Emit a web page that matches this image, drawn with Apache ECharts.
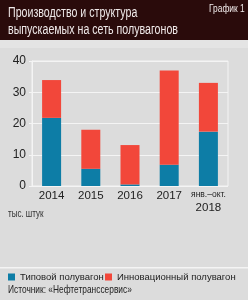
<!DOCTYPE html>
<html>
<head>
<meta charset="utf-8">
<script src="https://cdn.jsdelivr.net/npm/echarts@6/dist/echarts.min.js"></script>
<style>
  html, body { margin: 0; padding: 0; background: #dcdcdc; }
  #chart { width: 248px; height: 300px; }
</style>
</head>
<body>
<div id="chart"></div>
<script>
const categories = ['2014', '2015', '2016', '2017', 'янв.–окт.\n2018'];
const typical = [21.8, 5.5, 0.5, 6.8, 17.4];
const innovative = [12.1, 12.5, 12.6, 30.2, 15.6];
const yTicks = [0, 10, 20, 30, 40];

const FONT = '"Liberation Sans", Arial, sans-serif';
const BLUE = '#0d7da6';
const RED = '#f2473a';
const WHITE = '#f4f4f4';

const chart = echarts.init(document.getElementById('chart'));

const legendText = { fontFamily: FONT, fontSize: 9.5, color: '#222' };

chart.setOption({
    backgroundColor: '#dcdcdc',
    animation: false,
    graphic: [
        { type: 'rect', shape: { x: 0, y: 0, width: 248, height: 40 }, style: { fill: '#2a0b0b' } },
        { type: 'rect', shape: { x: 0, y: 40, width: 248, height: 8 }, style: { fill: '#e4e4e4' } },
        { type: 'rect', shape: { x: 0, y: 267, width: 248, height: 1.5 }, style: { fill: WHITE } },
        {
            type: 'text', x: 8, y: 5, scaleX: 0.76,
            style: { text: 'Производство и структура\nвыпускаемых на сеть полувагонов', fill: '#f0eaea', font: '14px ' + FONT, lineHeight: 17 }
        },
        {
            type: 'text', x: 209, y: 4, scaleX: 0.8,
            style: { text: 'График 1', fill: '#f0eaea', font: '10.5px ' + FONT }
        },
        {
            type: 'text', x: 8, y: 209, scaleX: 0.8,
            style: { text: 'тыс. штук', fill: '#333', font: '10px ' + FONT }
        },
        {
            type: 'text', x: 8, y: 284, scaleX: 0.76,
            style: { text: 'Источник: «Нефтетранссервис»', fill: '#222', font: '11px ' + FONT }
        }
    ],
    legend: [
        {
            left: 3, top: 267, itemWidth: 7, itemHeight: 7, itemGap: 4, icon: 'rect',
            textStyle: legendText, data: ['Типовой полувагон']
        },
        {
            left: 100, top: 267, itemWidth: 7, itemHeight: 7, itemGap: 4, icon: 'rect',
            textStyle: legendText, data: ['Инновационный полувагон']
        }
    ],
    grid: {
        left: 32, right: 20, top: 61, bottom: 114,
        show: true, borderColor: WHITE, borderWidth: 1, backgroundColor: 'transparent'
    },
    xAxis: {
        type: 'category',
        data: categories,
        axisLine: { show: false },
        axisTick: { show: false },
        axisLabel: {
            interval: 0, margin: 3, color: '#222', fontFamily: FONT, fontSize: 11.5, lineHeight: 13,
            formatter: v => v.includes('\n') ? '{s|' + v.split('\n')[0] + '}\n' + v.split('\n')[1] : v,
            rich: { s: { fontFamily: FONT, fontSize: 8.5, color: '#222', lineHeight: 12 } }
        }
    },
    yAxis: {
        type: 'value',
        min: 0, max: 40, interval: 10,
        axisLine: { show: true, lineStyle: { color: WHITE, width: 1 } },
        axisTick: { show: true, length: 3, lineStyle: { color: WHITE } },
        splitLine: { lineStyle: { color: WHITE, width: 1 } },
        axisLabel: {
            margin: 6, color: '#222', fontFamily: FONT, fontSize: 12,
            formatter: v => yTicks.includes(v) ? String(v) : ''
        }
    },
    series: [
        {
            name: 'Типовой полувагон', type: 'bar', stack: 's',
            barWidth: 19, itemStyle: { color: BLUE }, data: typical
        },
        {
            name: 'Инновационный полувагон', type: 'bar', stack: 's',
            barWidth: 19, itemStyle: { color: RED }, data: innovative
        }
    ]
});
</script>
</body>
</html>
